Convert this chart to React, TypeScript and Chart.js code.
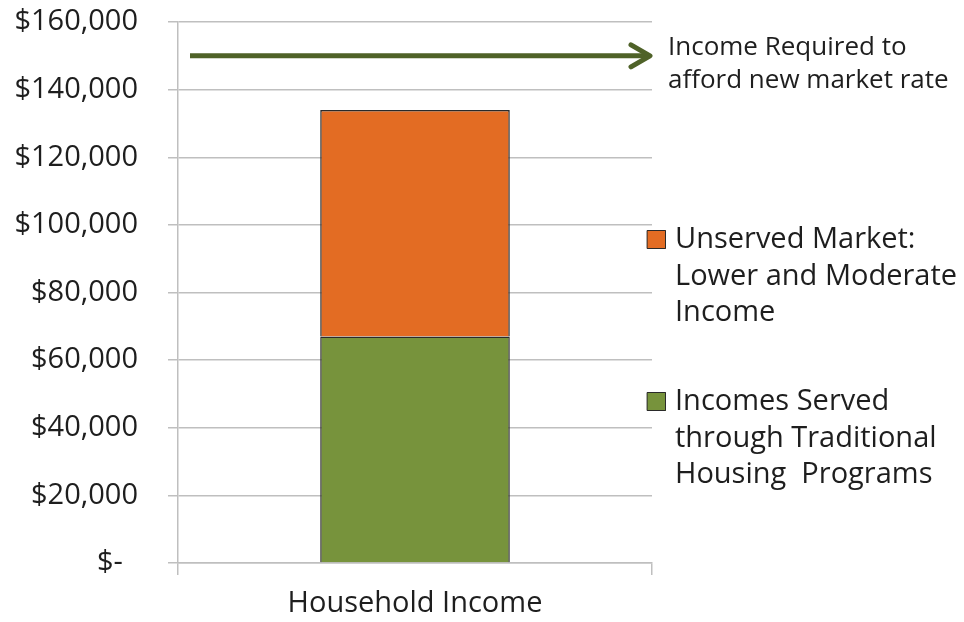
import React, { useEffect, useRef } from 'react';
import { Chart, registerables } from 'chart.js';

Chart.register(...registerables);

const CATEGORIES = ['Household Income'];
const SERVED = [67000];
const UNSERVED = [67000];
const REQUIRED_INCOME = 150000;
const Y_MIN = 0;
const Y_MAX = 160000;
const Y_STEP = 20000;
const SERVED_LABEL = ['Incomes Served', 'through Traditional', 'Housing  Programs'];
const UNSERVED_LABEL = ['Unserved Market:', 'Lower and Moderate', 'Income'];
const REQUIRED_LABEL = ['Income Required to', 'afford new market rate'];

const FONT = '"Open Sans", sans-serif';
const TEXT = '#1e1e1e';
const GRID = '#BFBFBF';
const GREEN = '#77933C';
const ORANGE = '#E36C23';
const ARROW = '#4F6228';
const EDGE = '#2a2a2a';

const overlayPlugin = {
  id: 'overlay',
  afterDraw(chart: any) {
    const { ctx, chartArea, scales } = chart;
    const y = scales.y.getPixelForValue(REQUIRED_INCOME);
    ctx.save();
    // arrow
    ctx.strokeStyle = ARROW;
    ctx.lineWidth = 5;
    ctx.lineCap = 'butt';
    ctx.beginPath();
    ctx.moveTo(chartArea.left + 12, y);
    ctx.lineTo(chartArea.right - 3, y);
    ctx.stroke();
    ctx.lineCap = 'round';
    ctx.lineJoin = 'round';
    ctx.beginPath();
    ctx.moveTo(chartArea.right - 21, y - 11);
    ctx.lineTo(chartArea.right - 2, y);
    ctx.lineTo(chartArea.right - 21, y + 11);
    ctx.stroke();

    // annotation text
    ctx.fillStyle = TEXT;
    ctx.font = '26px ' + FONT;
    ctx.textAlign = 'left';
    ctx.textBaseline = 'alphabetic';
    const ax = chartArea.right + 16;
    REQUIRED_LABEL.forEach((line, i) => {
      ctx.fillText(line, ax, y - 1 + i * 33);
    });

    // legend
    const items = [
      { lines: UNSERVED_LABEL, color: ORANGE, base: 248 },
      { lines: SERVED_LABEL, color: GREEN, base: 410 },
    ];
    ctx.font = '29px ' + FONT;
    const lx = chartArea.right - 5;
    items.forEach((item) => {
      const base = item.base;
      ctx.fillStyle = item.color;
      ctx.fillRect(lx, base - 18, 19, 19);
      ctx.strokeStyle = EDGE;
      ctx.lineWidth = 1;
      ctx.strokeRect(lx + 0.5, base - 17.5, 18, 18);
      ctx.fillStyle = TEXT;
      item.lines.forEach((line, i) => {
        ctx.fillText(line, lx + 28, base + i * 36.5);
      });
    });
    ctx.restore();
  },
};

export default function App() {
  const ref = useRef<HTMLCanvasElement>(null);
  useEffect(() => {
    if (!ref.current) return;
    const chart = new Chart(ref.current, {
      type: 'bar',
      data: {
        labels: CATEGORIES,
        datasets: [
          {
            label: SERVED_LABEL.join(' '),
            data: SERVED,
            backgroundColor: GREEN,
            borderColor: EDGE,
            borderWidth: 1.5,
          },
          {
            label: UNSERVED_LABEL.join(' '),
            data: UNSERVED,
            backgroundColor: ORANGE,
            borderColor: EDGE,
            borderWidth: 1.5,
          },
        ],
      },
      options: {
        animation: false,
        responsive: true,
        maintainAspectRatio: false,
        layout: { padding: { left: 0, right: 312, top: 22, bottom: 0 } },
        datasets: { bar: { barPercentage: 0.4, categoryPercentage: 1 } },
        plugins: { legend: { display: false }, tooltip: { enabled: false } },
        scales: {
          x: {
            stacked: true,
            offset: true,
            grid: { drawOnChartArea: false, drawTicks: true, tickLength: 12, color: GRID, lineWidth: 1.5, offset: true },
            border: { color: GRID, width: 1.5 },
            ticks: { color: TEXT, font: { family: FONT, size: 29 }, padding: 11 },
            afterFit: (s: any) => { s.height = 59; s.paddingLeft = 0; s.paddingRight = 0; },
          },
          y: {
            stacked: true,
            min: Y_MIN,
            max: Y_MAX,
            ticks: {
              stepSize: Y_STEP,
              color: TEXT,
              padding: 30,
              font: { family: FONT, size: 29 },
              callback: (v: any) => (Number(v) === 0 ? '$-  ' : '$' + Number(v).toLocaleString('en-US')),
            },
            grid: { color: GRID, lineWidth: 1.5, tickLength: 10 },
            border: { color: GRID, width: 1.5 },
            afterFit: (s: any) => { s.width = 178; s.paddingTop = 0; s.paddingBottom = 0; },
          },
        },
      },
      plugins: [overlayPlugin],
    });
    return () => chart.destroy();
  }, []);
  return (
    <div style={{ position: 'fixed', left: 0, top: 0, width: 964, height: 622, background: '#fff' }}>
      <canvas ref={ref} />
    </div>
  );
}
